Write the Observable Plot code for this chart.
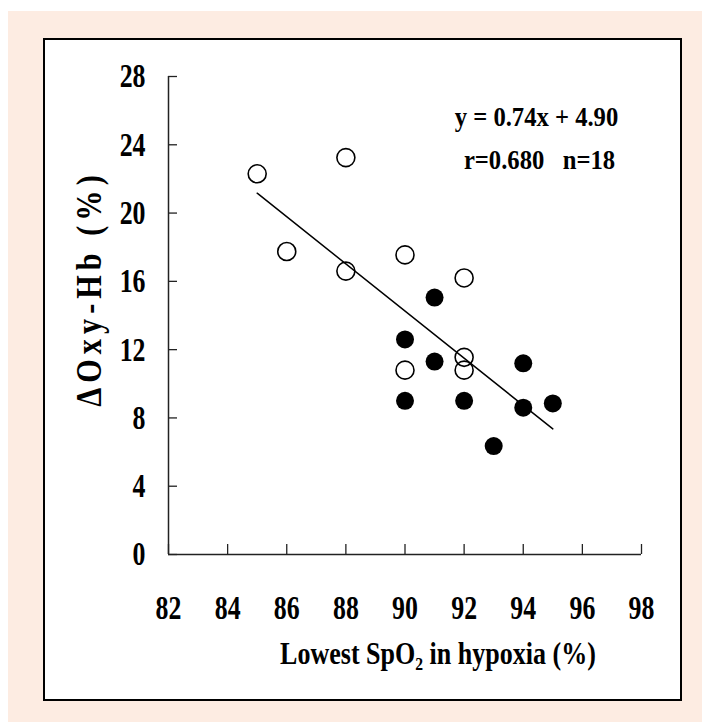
<!DOCTYPE html>
<html><head><meta charset="utf-8">
<script src="https://cdn.jsdelivr.net/npm/d3@7"></script>
<script src="https://cdn.jsdelivr.net/npm/@observablehq/plot@0.6"></script>
<style>
html,body{margin:0;padding:0;background:#fff;}
#page{position:relative;width:702px;height:722px;overflow:hidden;}
#peach{position:absolute;left:8px;top:11px;width:694px;height:711px;background:#fdece2;}
#box{position:absolute;left:43px;top:38px;width:639px;height:663px;box-sizing:border-box;border:2px solid #000;background:#fff;}
#chart{position:absolute;left:0;top:0;}
</style></head><body>
<div id="page"><div id="peach"></div><div id="box"></div><div id="chart"></div></div>
<script>
// Open circles
const openX = [85, 88, 86, 88, 90, 92, 90, 92, 92];
const openY = [22.3, 23.25, 17.75, 16.6, 17.55, 16.2, 10.8, 11.55, 10.8];
// Filled circles
const filledX = [91, 90, 91, 94, 90, 92, 94, 95, 93];
const filledY = [15.05, 12.6, 11.3, 11.2, 9.0, 9.0, 8.6, 8.85, 6.35];
const xTicks = [82, 84, 86, 88, 90, 92, 94, 96, 98];
const yTicks = [0, 4, 8, 12, 16, 20, 24, 28];
const xLabel = "Lowest SpO\u2082 in hypoxia (%)";
const yLabel = "\u0394Oxy-Hb (%)";
const equationLine1 = "y = 0.74x + 4.90";
const equationLine2 = "r=0.680\u00a0\u00a0\u00a0n=18";

const openPts = openX.map((x, i) => ({x, y: openY[i]}));
const filledPts = filledX.map((x, i) => ({x, y: filledY[i]}));
const allPts = openPts.concat(filledPts);

const axisColor = "#222";
const plot = Plot.plot({
  width: 702, height: 722,
  marginLeft: 168, marginRight: 61, marginTop: 76, marginBottom: 168,
  style: {background: "transparent", fontFamily: "'Liberation Serif', 'Times New Roman', serif", fontWeight: "bold", color: "#000", overflow: "visible"},
  x: {domain: [82, 98], label: null},
  y: {domain: [0, 28], label: null},
  marks: [
    Plot.ruleY([0], {stroke: axisColor, strokeWidth: 1.5}),
    Plot.ruleX([82], {stroke: axisColor, strokeWidth: 1.5}),
    Plot.axisX({ticks: xTicks, tickSize: -10, tickFormat: () => "", label: null, stroke: axisColor, strokeWidth: 1.3}),
    Plot.axisX({ticks: xTicks, tickSize: 0, tickPadding: 40, fontSize: 34, label: null}),
    Plot.axisY({ticks: yTicks, tickSize: -9, tickFormat: () => "", label: null, stroke: axisColor, strokeWidth: 1.3}),
    Plot.axisY({ticks: yTicks, tickSize: 0, tickPadding: 23, fontSize: 34, label: null}),
    Plot.dot(openPts, {x: "x", y: "y", r: 9, stroke: "#000", strokeWidth: 1.6, fill: "none"}),
    Plot.linearRegressionY(allPts, {x: "x", y: "y", ci: 0, stroke: "#000", strokeWidth: 1.5}),
    Plot.dot(filledPts, {x: "x", y: "y", r: 9, fill: "#000", stroke: "none"}),
    Plot.text([equationLine1], {text: d => d, frameAnchor: "top-right", textAnchor: "middle", lineAnchor: "bottom", dx: -105, dy: 49, fontSize: 28}),
    Plot.text([equationLine2], {text: d => d, frameAnchor: "top-right", textAnchor: "middle", lineAnchor: "bottom", dx: -102, dy: 92, fontSize: 28}),
    Plot.text([xLabel], {text: d => d, frameAnchor: "bottom", textAnchor: "middle", lineAnchor: "bottom", dx: 33, dy: 109, fontSize: 31}),
    Plot.text([yLabel], {text: d => d, frameAnchor: "left", textAnchor: "middle", lineAnchor: "bottom", rotate: -90, dx: -68, dy: -27, fontSize: 36})
  ]
});

plot.querySelectorAll("text").forEach(t => {
  const s = t.textContent;
  const tr = t.getAttribute("transform");
  let k = null;
  if (/^\d+$/.test(s)) k = 0.76;
  else if (s === xLabel) k = 0.84;
  else if (s === yLabel) k = 0.84;
  else if (s === equationLine1 || s === equationLine2) k = 0.88;
  if (k && tr) t.setAttribute("transform", tr + ` scale(${k},1)`);
  if (s === yLabel) t.style.letterSpacing = "6px";
});
document.getElementById("chart").appendChild(plot);
</script>
</body></html>
